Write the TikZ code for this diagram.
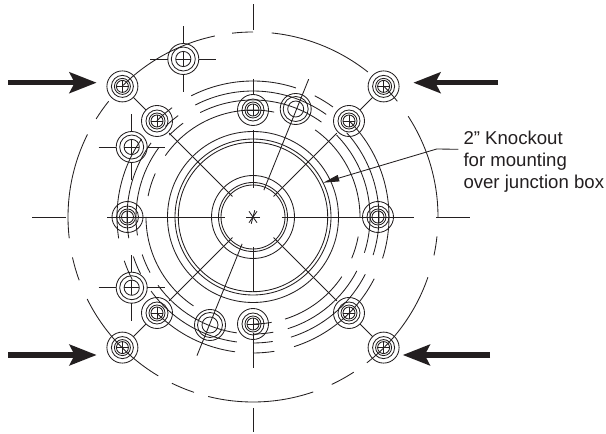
\documentclass[tikz,border=0pt]{standalone}
\usepackage{fontspec}
\setmainfont{Liberation Sans}
\usetikzlibrary{arrows.meta}
\definecolor{ink}{HTML}{231F20}
\tikzset{
  drawing/.style={draw=ink,line width=0.85pt},
  bigarrow/.style={draw=ink,line width=5.5pt,-{Stealth[length=27pt,width=20.5pt,inset=5pt]}},
  leader/.style={draw=ink,line width=0.85pt,-{Stealth[length=16pt,width=6.5pt,inset=0pt]}},
  label/.style={text=ink,font=\fontsize{18.6pt}{21.8pt}\selectfont,align=left,inner sep=0pt}
}
\begin{document}
\begin{tikzpicture}[x=1pt,y=1pt]
\useasboundingbox (0,0) rectangle (606,434);
\begin{scope}[shift={(253,217)},drawing]
  % central rings
  \foreach \r in {32,34.5,41.5,74.7,78,85.5} \draw (0,0) circle[radius=\r];
  % dashed outer circle and the four inner broken arcs
  \foreach \r/\a/\b in {
    185/135/101.9, 185/96.5/90, 185/84.2/51.6, 185/45/38.7, 185/33/0, 185/-6/-12,
    185/-19/-52, 185/-57/-64.8, 185/-71/-104, 185/-108.6/-116, 185/-120.8/-153.7,
    185/-160/-167.4, 185/-173.4/-206.5, 185/-212/-218.7,
    136/117/71.6, 136/63/54, 136/45/-17.7, 136/-27/-72.4, 136/-81/-90,
    136/135/126.5, 136/145/189, 136/198.8/207.4, 136/225/262.4,
    126/117.3/54.5, 126/42/-17.6, 126/-27/-72.5, 126/-81/-90,
    126/134/126.4, 126/144/189.7, 126/198.3/206.8, 126/216/262.6,
    117/116.8/54.2, 117/44.4/-17.8, 117/-27.4/-72.7, 117/-80/-90,
    117/135.6/126.7, 117/143.5/189, 117/198.7/208.4, 117/215.7/262,
    107/145/78.6, 107/54.5/0, 107/-10.6/-22.7, 107/-33.9/-72.6, 107/-80/-90,
    107/156/168.7, 107/180/236.2}
    \draw (\a:\r) arc[start angle=\a,end angle=\b,radius=\r];
  % axes
  \draw (0,187) -- (0,213);
  \draw (0,-191) -- (0,-215);
  \draw (0,138) -- (0,121.5);
  \draw (0,87) -- (0,29);
  \draw (0,-30) -- (0,-74.7);
  \draw (0,-116) -- (0,-151.5);
  \draw (-145.7,0) -- (-28,0);
  \draw (28.7,0) -- (161,0);
  \draw (-221,0) -- (-187,0);
  \draw (183,0) -- (216.5,0);
  % radial lines
  \foreach \a in {45,135,225,315} {
    \draw (\a:29) -- (\a:118.5);
    \draw (\a:151.5) -- (\a:169.5);
  }
  \draw (68:29) -- (68:148.6);
  \draw (248:29) -- (248:149.5);
  % centre mark
  \foreach \a in {0,55,75,125} \draw (\a:7) -- (\a+180:7);
  % mounting bolts with four rings and a cross
  \foreach \x/\y in {-130.6/130.6,130.6/130.6,-130.6/-130.6,130.6/-130.6,
                     -96/96,96/96,-96/-96,96/-96,
                     0/107,0/-107,-125.5/0,125/0} {
    \foreach \r in {15.5,11,8,6} \draw (\x,\y) circle[radius=\r];
    \draw (\x-6,\y) -- (\x+6,\y) (\x,\y-6) -- (\x,\y+6);
  }
  % plain holes with centre lines
  \foreach \x/\y in {-69.7/158,-121.3/70,-121.3/-70.7} {
    \foreach \r in {15.5,12,7.6} \draw (\x,\y) circle[radius=\r];
    \draw (\x-7.6,\y) -- (\x+7.6,\y) (\x,\y-7.6) -- (\x,\y+7.6);
    \draw (\x-33,\y) -- (\x-15.5,\y) (\x+15.5,\y) -- (\x+33,\y);
    \draw (\x,\y-33) -- (\x,\y-15.5) (\x,\y+15.5) -- (\x,\y+33);
  }
  % plain holes
  \foreach \x/\y in {42.7/108,-43/-108} {
    \foreach \r in {15.5,12.5,8} \draw (\x,\y) circle[radius=\r];
  }
\end{scope}
% big arrows
\coordinate (tlA) at (8,351.3);  \coordinate (tlB) at (96.7,351.3);
\coordinate (blA) at (8,79);     \coordinate (blB) at (96.7,79);
\coordinate (trA) at (498,351.3);\coordinate (trB) at (413.3,351.3);
\coordinate (brA) at (490,79);   \coordinate (brB) at (402.7,79);
\draw[bigarrow] (tlA) -- (tlB);
\draw[bigarrow] (blA) -- (blB);
\draw[bigarrow] (trA) -- (trB);
\draw[bigarrow] (brA) -- (brB);
% label and leader
\node[label,anchor=north west] (note) at (463.3,303) {2” Knockout\\for mounting\\over junction box};
\coordinate (knee) at (458.3,284.7);
\coordinate (bend) at (436.7,285);
\coordinate (tip) at (323.3,251.3);
\draw[leader] (knee) -- (bend) -- (tip);
\end{tikzpicture}
\end{document}
